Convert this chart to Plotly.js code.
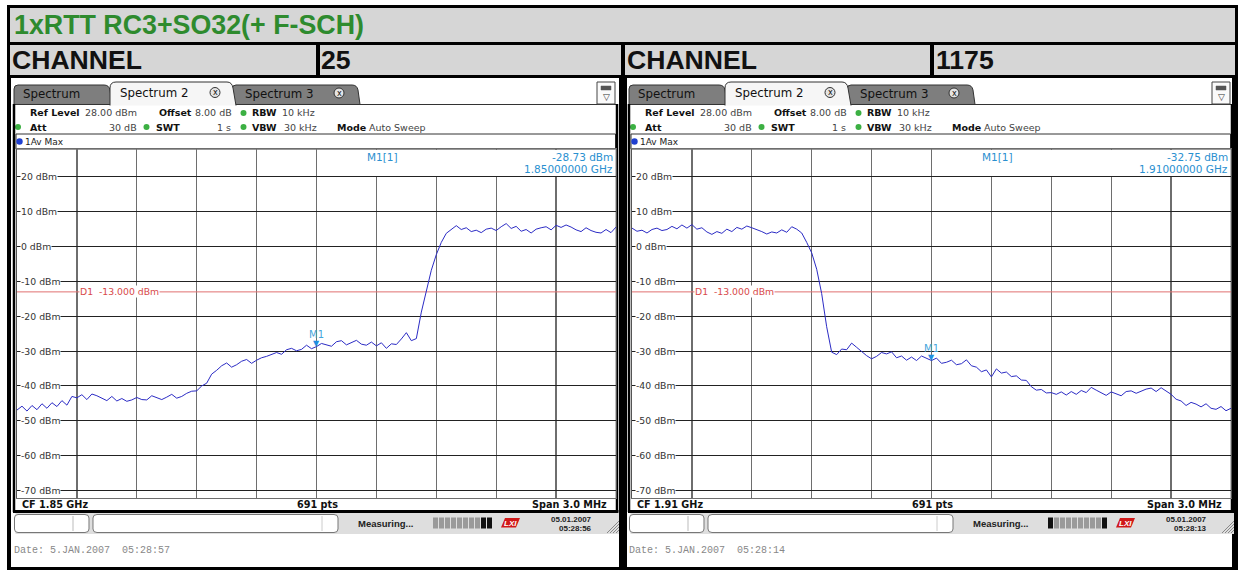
<!DOCTYPE html>
<html><head><meta charset="utf-8">
<script src="https://cdn.plot.ly/plotly-3.0.1.min.js"></script>
<style>html,body{margin:0;padding:0;background:#fff;overflow:hidden}#chart{width:1238px;height:570px}</style>
</head><body><div id="chart"></div>
<script>
// ---------------- DATA ----------------
const chartTitle = "1xRTT RC3+SO32(+ F-SCH)";
const channelLabels = ["CHANNEL", "CHANNEL"];
const channelNumbers = ["25", "1175"];
const centerFreqsGHz = [1.85, 1.91];
const centerFreqLabels = ["CF 1.85 GHz", "CF 1.91 GHz"];
const pointsLabel = "691 pts";
const spanLabel = "Span 3.0 MHz";
const spanMHz = 3.0;
const sweepCount = 121;
const yTickValues = [20, 10, 0, -10, -20, -30, -40, -50, -60, -70];
const yRange = [-72, 28];
const displayLineDbm = -13;
const displayLineLabel = "D1\u00a0\u00a0-13.000 dBm";
const markerFreqsGHz = [1.85, 1.91];
const markerLevelsDbm = [-28.73, -32.75];
const markerLevelLabels = ["-28.73 dBm", "-32.75 dBm"];
const markerFreqLabels = ["1.85000000 GHz", "1.91000000 GHz"];
const statusDates = ["05.01.2007", "05.01.2007"];
const statusTimes = ["05:28:56", "05:28:13"];
const footerDates = ["Date: 5.JAN.2007\u00a0\u00a005:28:57", "Date: 5.JAN.2007\u00a0\u00a005:28:14"];

// channel 25 trace (dBm), sweep from CF-1.5 MHz to CF+1.5 MHz
const leftLevels = [
 -46.9,-45.8,-47.2,-45.6,-46.8,-45.1,-46.4,-44.8,-45.9,-44.2,
 -45.5,-43.0,-43.4,-42.5,-43.9,-42.3,-42.8,-43.6,-44.2,-43.0,
 -44.3,-43.6,-44.4,-44.0,-43.3,-43.9,-44.0,-42.8,-43.4,-43.9,
 -43.2,-42.4,-43.5,-43.0,-42.1,-41.5,-41.4,-40.0,-39.2,-36.6,
 -35.5,-34.2,-33.4,-34.6,-33.9,-32.9,-32.4,-33.5,-32.6,-31.9,
 -31.5,-31.0,-30.4,-30.9,-29.6,-29.2,-29.9,-29.5,-28.3,-29.3,
 -28.7,-27.8,-28.3,-28.6,-27.3,-27.0,-28.2,-27.6,-26.9,-28.0,
 -28.3,-27.4,-28.5,-27.6,-29.2,-27.9,-28.1,-26.5,-24.7,-27.0,
 -26.4,-18.8,-12.6,-6.8,-2.3,1.2,3.8,5.0,6.0,4.9,
 5.4,4.3,4.7,4.0,5.0,5.3,4.6,5.7,6.6,5.2,
 5.8,4.4,4.9,3.9,5.0,5.4,5.7,4.8,6.1,5.5,
 6.2,5.6,4.8,4.3,5.4,4.6,4.1,3.9,4.9,4.0,
 5.6
];
// channel 1175 trace (dBm)
const rightLevels = [
 5.3,4.4,4.7,3.9,4.9,5.3,4.6,4.9,5.8,5.1,
 6.2,5.3,6.3,5.0,5.4,4.2,3.5,4.3,3.8,5.0,
 4.3,5.5,5.0,5.9,5.4,4.9,4.3,3.6,4.2,3.9,
 4.8,4.1,5.7,5.0,3.9,1.2,-1.8,-6.5,-13.5,-23.0,
 -30.3,-31.0,-29.4,-29.6,-27.7,-28.9,-30.2,-31.3,-32.2,-31.5,
 -30.4,-30.8,-30.2,-31.9,-31.4,-32.6,-31.7,-32.7,-31.4,-32.0,
 -32.7,-32.0,-33.5,-33.2,-32.6,-33.9,-33.6,-32.5,-34.2,-34.6,
 -35.9,-35.4,-37.4,-35.1,-36.3,-36.0,-37.3,-37.1,-38.3,-38.4,
 -40.2,-41.2,-41.0,-42.0,-41.9,-42.4,-41.7,-42.6,-41.6,-42.4,
 -41.3,-41.9,-40.4,-41.2,-41.9,-42.7,-41.7,-42.2,-42.8,-41.6,
 -41.4,-42.1,-41.5,-40.9,-40.6,-41.6,-40.5,-41.4,-42.4,-43.8,
 -44.3,-45.6,-44.7,-45.2,-46.0,-45.1,-46.4,-46.7,-45.9,-47.1,
 -46.4
];
const levelsByPanel = [leftLevels, rightLevels];

// ---------------- HELPERS ----------------
const W = 1238, H = 570;
const X = p => p / W;
const Y = p => 1 - p / H;
const shapes = [], annotations = [];
function rect(x0, y0, x1, y1, fill, lineColor, lw, layer) {
  shapes.push({type:'rect', xref:'paper', yref:'paper', x0:X(x0), x1:X(x1), y0:Y(y1), y1:Y(y0),
    fillcolor: fill || 'rgba(0,0,0,0)', line:{color: lineColor || 'rgba(0,0,0,0)', width: lw || 0}, layer: layer || 'below'});
}
function seg(x0, y0, x1, y1, color, w, layer) {
  shapes.push({type:'line', xref:'paper', yref:'paper', x0:X(x0), x1:X(x1), y0:Y(y0), y1:Y(y1),
    line:{color, width:w}, layer: layer || 'below'});
}
function circ(cx, cy, r, fill, lineColor, lw) {
  shapes.push({type:'circle', xref:'paper', yref:'paper', x0:X(cx-r), x1:X(cx+r), y0:Y(cy+r), y1:Y(cy-r),
    fillcolor: fill, line:{color: lineColor || 'rgba(0,0,0,0)', width: lw || 0}, layer:'below'});
}
function path(segs, fill, lineColor, lw) {
  const d = segs.map(s => { let o = s[0]; for (let i = 1; i < s.length; i += 2) o += (i > 1 ? ' ' : '') + X(s[i]).toFixed(6) + ',' + Y(s[i+1]).toFixed(6); return o; }).join(' ');
  shapes.push({type:'path', xref:'paper', yref:'paper', path:d, fillcolor: fill || 'rgba(0,0,0,0)',
    line:{color: lineColor || 'rgba(0,0,0,0)', width: lw || 0}, layer:'below'});
}
function T(x, y, text, size, color, o) {
  o = o || {};
  annotations.push({xref:'paper', yref:'paper', x:X(x), y:Y(y), text, showarrow:false,
    xanchor:o.anchor || 'left', yanchor:'middle', borderpad:o.pad || 0,
    bgcolor:o.bg, font:{family:o.family || 'DejaVu Sans', size, color}});
}

// ---------------- GLOBAL FRAME ----------------
rect(7, 5, 1238, 570, '#000');
rect(10, 8, 1235, 42, '#d6d6d6');
rect(10, 45, 316, 75, '#d6d6d6');
rect(320, 45, 621, 75, '#d6d6d6');
rect(625, 45, 930, 75, '#d6d6d6');
rect(934, 45, 1235, 75, '#d6d6d6');
rect(11, 78, 619, 567, '#fff');
rect(627, 78, 1232, 567, '#fff');
T(13, 25, '<b>' + chartTitle + '</b>', 26.8, '#2e8b2e', {family:'Liberation Sans'});

// ---------------- PANELS ----------------
function panel(k) {
  const ox = k * 615;
  const px = v => v + ox;
  // header cells
  T(px(11), 60, '<b>' + channelLabels[k] + '</b>', 26.6, '#111', {family:'Liberation Sans'});
  T(px(320), 60, '<b>' + channelNumbers[k] + '</b>', 26.6, '#111', {family:'Liberation Sans'});
  // tab baseline
  seg(px(14), 104.5, px(617), 104.5, '#333', 1);
  // inactive tabs
  path([['M',px(14),104.5],['L',px(14),89],['Q',px(14),85,px(18),85],['L',px(104),85],['Q',px(109),85,px(110),90],['L',px(112),104.5],['Z']], '#7e7e7e', '#333', 1);
  path([['M',px(232),104.5],['L',px(232),89],['Q',px(232),85,px(236),85],['L',px(352),85],['Q',px(357),85,px(358),90],['L',px(360),104.5],['Z']], '#7e7e7e', '#333', 1);
  // active tab
  path([['M',px(110),105.5],['L',px(110),88],['Q',px(110),82,px(116),82],['L',px(227),82],['Q',px(232),82,px(233),88],['L',px(236),105.5]], '#f6f6f6', '#333', 1);
  T(px(22), 94, 'Spectrum', 11.8, '#111');
  T(px(119), 93.5, 'Spectrum 2', 11.8, '#111');
  T(px(244), 94, 'Spectrum 3', 11.8, '#111');
  circ(px(215), 92.5, 5, '#e4e4e4', '#333', 1);
  T(px(215), 92.5, 'x', 8, '#111', {anchor:'center'});
  circ(px(339), 93, 5, '#e4e4e4', '#333', 1);
  T(px(339), 93, 'x', 8, '#111', {anchor:'center'});
  // right icon
  rect(px(597), 82, px(615), 104, '#fafafa', '#444', 1);
  rect(px(601), 86, px(611), 90, '#555', '#555', 0.5);
  T(px(606), 97.5, '\u25BD', 9, '#333', {anchor:'center'});
  // info rows
  const r1 = 113, r2 = 127, lab = '#111', val = '#444', dot = '#3cb043', fs = 9.5;
  T(px(29), r1, '<b>Ref Level</b>', fs, lab);
  T(px(138), r1, '28.00 dBm', fs, val, {anchor:'right'});
  T(px(158), r1, '<b>Offset</b>', fs, lab);
  T(px(233), r1, '8.00 dB', fs, val, {anchor:'right'});
  circ(px(243.5), r1, 3, dot);
  T(px(251), r1, '<b>RBW</b>', fs, lab);
  T(px(281), r1, '10 kHz', fs, val);
  circ(px(18), r2, 3, dot);
  T(px(29), r2, '<b>Att</b>', fs, lab);
  T(px(138), r2, '30 dB', fs, val, {anchor:'right'});
  circ(px(146.5), r2, 3, dot);
  T(px(155), r2, '<b>SWT</b>', fs, lab);
  T(px(232), r2, '1 s', fs, val, {anchor:'right'});
  circ(px(243.5), r2, 3, dot);
  T(px(251), r2, '<b>VBW</b>', fs, lab);
  T(px(283), r2, '30 kHz', fs, val);
  T(px(336), r2, '<b>Mode</b>', fs, lab);
  T(px(368), r2, 'Auto Sweep', fs, val);
  // trace header box
  rect(px(16), 134, px(615.5), 149, '#fff', '#333', 1);
  circ(px(19.5), 141.5, 3.2, '#1f3fd0');
  T(px(23.5), 141.5, '1Av Max', 9, '#222');
  // screen frame
  seg(px(14), 104, px(14), 512, '#000', 2.5);
  seg(px(617), 104, px(617), 512, '#000', 2.5);
  seg(px(13), 511.5, px(618.5), 511.5, '#000', 3);
  // marker info box (covers grid)
  rect(px(318), 150, px(615), 176, '#fff', null, 0, 'above');
  T(px(366), 156.5, 'M1[1]', 10.5, '#2a90d0');
  T(px(614), 156.5, markerLevelLabels[k], 10.5, '#2a90d0', {anchor:'right'});
  T(px(614), 169.5, markerFreqLabels[k], 10.5, '#2a90d0', {anchor:'right'});
  // CF row
  T(px(21), 504, '<b>' + centerFreqLabels[k] + '</b>', 9.7, '#111');
  T(px(317), 504, '<b>' + pointsLabel + '</b>', 9.7, '#111', {anchor:'center'});
  T(px(608), 504, '<b>' + spanLabel + '</b>', 9.7, '#111', {anchor:'right'});
  // status bar
  rect(px(15.5), 513, px(619), 534, '#dedede');
  path([['M',px(18),514.5],['L',px(85),514.5],['Q',px(89),514.5,px(89),518],['L',px(89),529],['Q',px(89),532.5,px(85),532.5],['L',px(18),532.5],['Q',px(14.5),532.5,px(14.5),529],['L',px(14.5),518],['Q',px(14.5),514.5,px(18),514.5],['Z']], '#fff', '#777', 1);
  seg(px(73), 516, px(73), 531, '#bbb', 1);
  path([['M',px(97),514.5],['L',px(334),514.5],['Q',px(338),514.5,px(338),518],['L',px(338),529],['Q',px(338),532.5,px(334),532.5],['L',px(97),532.5],['Q',px(93),532.5,px(93),529],['L',px(93),518],['Q',px(93),514.5,px(97),514.5],['Z']], '#fff', '#777', 1);
  seg(px(322), 516, px(322), 531, '#ccc', 1);
  T(px(357), 523, '<b>Measuring...</b>', 9.5, '#222', {family:'Liberation Sans'});
  const blocks = k === 0 ? [0,0,0,0,0,0,0,0,1,1] : [1,0,0,0,0,0,0,0,0,1];
  blocks.forEach((b, i) => rect(px(433 + i * 6), 517.5, px(438 + i * 6), 528.5, b ? '#111' : '#9a9a9a'));
  path([['M',px(501),527.5],['L',px(505),518],['L',px(520),518],['L',px(516),527.5],['Z']], '#d01818');
  T(px(510.5), 523, '<b><i>LXI</i></b>', 8, '#fff', {anchor:'center', family:'Liberation Sans'});
  T(px(593), 519, '<b>' + statusDates[k] + '</b>', 8, '#222', {anchor:'right', family:'Liberation Sans'});
  T(px(593), 528, '<b>' + statusTimes[k] + '</b>', 8, '#222', {anchor:'right', family:'Liberation Sans'});
  for (let i = 0; i < 4; i++) seg(px(607 + i * 3), 533, px(619), 521 + i * 3, '#888', 1);
  // footer date
  T(px(13), 550, footerDates[k], 10, '#888', {family:'Liberation Mono'});
  // y labels and D1 label
  const yref = k === 0 ? 'y' : 'y2';
  yTickValues.forEach(v => annotations.push({xref:'paper', yref, x:X(px(19.5)), y:v, text: v + ' dBm',
    showarrow:false, xanchor:'left', yanchor:'middle', bgcolor:'#fff', borderpad:0,
    font:{family:'DejaVu Sans', size:9.3, color:'#333'}}));
  annotations.push({xref:'paper', yref, x:X(px(78.5)), y:displayLineDbm, text:displayLineLabel,
    showarrow:false, xanchor:'left', yanchor:'middle', bgcolor:'#fff', borderpad:0,
    font:{family:'DejaVu Sans', size:9.3, color:'#d84a4a'}});
  // marker M1
  const xref = k === 0 ? 'x' : 'x2';
  annotations.push({xref, yref, x:markerFreqsGHz[k], y:markerLevelsDbm[k], text:'\u25BC', showarrow:false,
    xanchor:'center', yanchor:'bottom', yshift:-3, font:{family:'DejaVu Sans', size:8, color:'#1e8ee0'}});
  annotations.push({xref, yref, x:markerFreqsGHz[k], y:markerLevelsDbm[k], text:'M1', showarrow:false,
    xanchor:'center', yanchor:'bottom', yshift:5, font:{family:'DejaVu Sans', size:10, color:'#45a5dc'}});
}
panel(0); panel(1);

// ---------------- TRACES ----------------
const traces = [];
levelsByPanel.forEach((levels, k) => {
  const cf = centerFreqsGHz[k];
  const freqs = levels.map((_, i) => cf + (-spanMHz / 2 + i * spanMHz / (sweepCount - 1)) / 1000);
  const xa = k === 0 ? 'x' : 'x2', ya = k === 0 ? 'y' : 'y2';
  traces.push({type:'scatter', mode:'lines', x:[cf - spanMHz / 2000, cf + spanMHz / 2000], y:[displayLineDbm, displayLineDbm],
    xaxis:xa, yaxis:ya, line:{color:'#e07070', width:1}, hoverinfo:'skip', showlegend:false});
  traces.push({type:'scatter', mode:'lines', x:freqs, y:levels, xaxis:xa, yaxis:ya,
    line:{color:'#2b2bc4', width:1}, hoverinfo:'skip', showlegend:false});
});

function xAxis(k) {
  const cf = centerFreqsGHz[k];
  const l = 17 + k * 615, r = 616 + k * 615;
  return {domain:[X(l), X(r)], range:[cf - spanMHz / 2000, cf + spanMHz / 2000], tick0:cf - spanMHz / 2000, dtick:spanMHz / 10000,
    showticklabels:false, ticks:'', showgrid:true, gridcolor:'#6e6e6e', gridwidth:1.3, zeroline:false,
    showline:true, mirror:true, linecolor:'#6e6e6e', linewidth:1, fixedrange:true, anchor: k === 0 ? 'y' : 'y2'};
}
function yAxis(k) {
  return {domain:[Y(497.5), Y(149)], range:yRange, tick0:-70, dtick:10, showticklabels:false, ticks:'',
    showgrid:true, gridcolor:'#222', gridwidth:1, zeroline:false, showline:true, mirror:true,
    linecolor:'#555', linewidth:1, fixedrange:true, anchor: k === 0 ? 'x' : 'x2'};
}

const layout = {
  width:W, height:H, margin:{l:0, r:0, t:0, b:0}, paper_bgcolor:'#fff', plot_bgcolor:'rgba(0,0,0,0)',
  showlegend:false, xaxis:xAxis(0), yaxis:yAxis(0), xaxis2:xAxis(1), yaxis2:yAxis(1),
  shapes, annotations
};
Plotly.newPlot('chart', traces, layout, {displayModeBar:false, staticPlot:true});
</script></body></html>
